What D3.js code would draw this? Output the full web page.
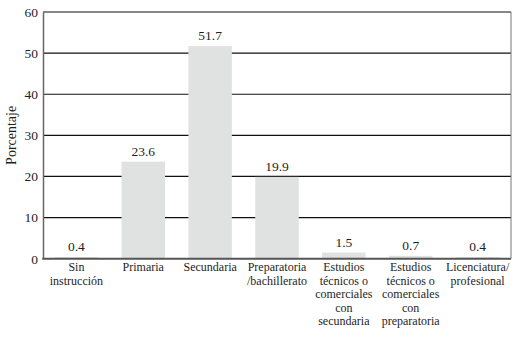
<!DOCTYPE html>
<html>
<head>
<meta charset="utf-8">
<script src="https://cdn.jsdelivr.net/npm/d3@7"></script>
<style>
  body { margin: 0; background: #fff; }
</style>
</head>
<body>
<svg id="chart" width="529" height="352"></svg>
<script>
// data
const categories = [
    ["Sin", "instrucción"],
    ["Primaria"],
    ["Secundaria"],
    ["Preparatoria", "/bachillerato"],
    ["Estudios", "técnicos o", "comerciales", "con", "secundaria"],
    ["Estudios", "técnicos o", "comerciales", "con", "preparatoria"],
    ["Licenciatura/", "profesional"]
];
const values = [0.4, 23.6, 51.7, 19.9, 1.5, 0.7, 0.4];
const yTicks = [0, 10, 20, 30, 40, 50, 60];
const yLabel = "Porcentaje";

const serifFont = "'Liberation Serif'";
const ink = "#1e1e1e";
const svg = d3.select("#chart");
const plotLeft = 43, plotRight = 511, plotTop = 12, plotBottom = 258.7;

const x = d3.scaleBand()
    .domain(d3.range(values.length))
    .range([plotLeft, plotRight])
    .paddingInner(0.35)
    .paddingOuter(0.175);

const y = d3.scaleLinear()
    .domain([0, 60])
    .range([plotBottom, plotTop]);

// gridlines (behind bars)
svg.append("g")
    .selectAll("line")
    .data(yTicks.filter(d => d > 0))
    .enter()
    .append("line")
    .attr("x1", plotLeft)
    .attr("x2", plotRight)
    .attr("y1", d => y(d))
    .attr("y2", d => y(d))
    .attr("stroke", "#111")
    .attr("stroke-width", 1.2);

// right frame
svg.append("line")
    .attr("x1", plotRight).attr("x2", plotRight)
    .attr("y1", plotTop).attr("y2", plotBottom)
    .attr("stroke", "#777")
    .attr("stroke-width", 1);

// bars
svg.selectAll(".bar")
    .data(values)
    .enter()
    .append("rect")
    .attr("class", "bar")
    .attr("x", (d, i) => x(i))
    .attr("y", d => y(d))
    .attr("width", x.bandwidth())
    .attr("height", d => plotBottom - y(d))
    .attr("fill", "#e0e1e1");

// value labels
svg.selectAll(".val")
    .data(values)
    .enter()
    .append("text")
    .attr("class", "val")
    .attr("x", (d, i) => x(i) + x.bandwidth() / 2)
    .attr("y", d => y(d) - 6)
    .attr("text-anchor", "middle")
    .style("font-family", serifFont)
    .style("font-size", "13.5px")
    .style("fill", ink)
    .text(d => d.toFixed(1));

// y axis
const yAxis = svg.append("g")
    .attr("transform", "translate(" + plotLeft + ",0)")
    .call(d3.axisLeft(y).tickValues(yTicks).tickSize(0).tickPadding(5));
yAxis.select(".domain").attr("stroke", "#666").attr("stroke-width", 1.5);
yAxis.selectAll("text")
    .style("font-family", serifFont)
    .style("font-size", "13.5px")
    .style("fill", ink);

// x baseline
svg.append("line")
    .attr("x1", plotLeft - 0.75).attr("x2", plotRight)
    .attr("y1", plotBottom).attr("y2", plotBottom)
    .attr("stroke", "#555")
    .attr("stroke-width", 2);

// category labels
const cat = svg.selectAll(".cat")
    .data(categories)
    .enter()
    .append("text")
    .attr("class", "cat")
    .attr("text-anchor", "middle")
    .style("font-family", serifFont)
    .style("font-size", "12px")
    .style("fill", ink)
    .attr("y", 271);
cat.selectAll("tspan")
    .data((d, i) => d.map(s => ({ s: s, i: i })))
    .enter()
    .append("tspan")
    .attr("x", d => x(d.i) + x.bandwidth() / 2)
    .attr("dy", (d, j) => j === 0 ? 0 : 13.6)
    .text(d => d.s);

// y axis title
svg.append("text")
    .attr("transform", "translate(16," + ((plotTop + plotBottom) / 2) + ") rotate(-90)")
    .attr("text-anchor", "middle")
    .style("font-family", serifFont)
    .style("font-size", "14px")
    .style("fill", ink)
    .text(yLabel);
</script>
</body>
</html>
